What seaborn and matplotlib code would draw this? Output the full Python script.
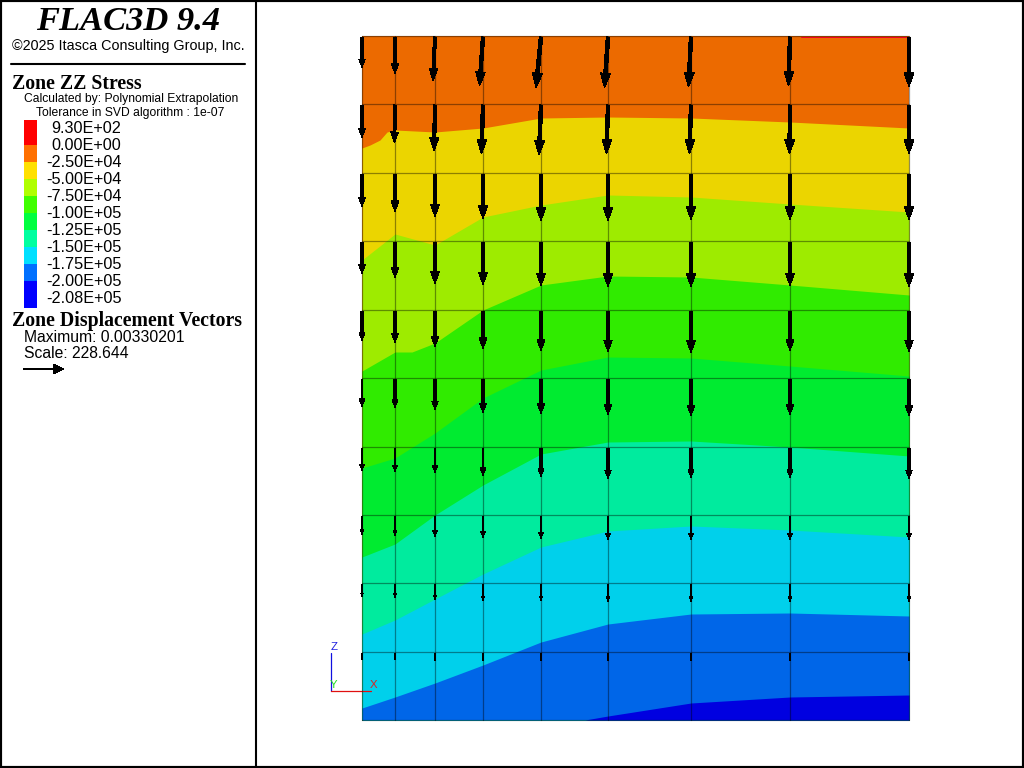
import numpy as np
import pandas as pd
import seaborn as sns
import matplotlib
matplotlib.use("Agg")
import matplotlib.pyplot as plt
from matplotlib.patches import Rectangle

sns.set_theme(style="white")
plt.rcParams['font.family'] = ['Liberation Sans', 'DejaVu Sans']

# grid node positions in the view
grid_x = [362, 395, 435, 483, 541, 608, 691, 790, 909]
grid_y = [36, 104, 173, 241, 310, 378, 447, 515, 583, 652, 720]

# contour colours, top band first
band_colors = ['#ec6a00', '#ebd500', '#9eeb00', '#30eb00', '#00eb30',
               '#00eb9e', '#00d0eb', '#0066e8', '#0000e0']

# band boundaries (x list, y list), top to bottom
b1_x = [362, 370, 380, 387, 395, 435, 483, 541, 608, 691, 790, 909]
b1_y = [148, 145, 140, 132, 130, 132, 128, 118, 117, 118, 122, 128]
b2_x = [362, 395, 435, 483, 541, 608, 691, 790, 909]
b2_y = [260, 234, 245, 217, 205, 195, 197, 204, 212]
b3_x = [362, 395, 412, 435, 483, 541, 608, 691, 790, 909]
b3_y = [371, 352, 352, 343, 310, 285, 276, 277, 285, 295]
b4_x = [362, 395, 435, 483, 541, 608, 691, 790, 909]
b4_y = [468, 458, 433, 398, 370, 357, 358, 366, 376]
b5_y = [557, 544, 515, 485, 454, 442, 441, 447, 456]
b6_y = [634, 620, 599, 574, 547, 531, 526, 530, 537]
b7_y = [708, 697, 683, 665, 642, 624, 614, 613, 616]
b8_x = [585, 608, 691, 790, 909]
b8_y = [720, 716, 703, 697, 695]
boundaries = [(b1_x, b1_y), (b2_x, b2_y), (b3_x, b3_y), (b4_x, b4_y), (b4_x, b5_y),
              (b4_x, b6_y), (b4_x, b7_y), (b8_x, b8_y)]

# displacement vectors: length per row (rows top to bottom, columns left to right)
vec_len = [
    [31, 37, 44, 49, 51, 51, 50, 49, 50],
    [33, 38, 46, 49, 50, 49, 49, 49, 49],
    [33, 38, 43, 45, 47, 47, 46, 46, 46],
    [32, 36, 42, 43, 44, 45, 45, 44, 45],
    [30, 32, 36, 38, 40, 41, 42, 40, 41],
    [28, 29, 31, 34, 35, 36, 37, 36, 37],
    [23, 24, 25, 28, 29, 31, 30, 30, 31],
    [19, 20, 21, 22, 23, 24, 24, 24, 24],
    [13, 14, 16, 17, 17, 18, 18, 18, 18],
    [7, 7, 8, 8, 8, 8, 8, 8, 8],
]
# sideways lean of the top two rows
vec_dx = [
    [0, 0, -2, -3.5, -5, -3.5, -2.5, -1.5, 0],
    [0, -0.5, -1, -1.5, -2, -1.5, -1.5, -0.5, 0],
]

legend_labels = ['9.30E+02', '0.00E+00', '-2.50E+04', '-5.00E+04', '-7.50E+04', '-1.00E+05',
                 '-1.25E+05', '-1.50E+05', '-1.75E+05', '-2.00E+05', '-2.08E+05']
legend_colors = ['#ff0000', '#ff7000', '#ffe000', '#b0ff00', '#40ff00', '#00ff40',
                 '#00ffa0', '#00e0ff', '#0070ff', '#0000ff']
legend_edges = [120, 145, 162, 179, 196, 213, 230, 247, 264, 281, 308]

SANS = 'Liberation Sans'
SERIF = 'Liberation Serif'

fig = plt.figure(figsize=(10.24, 7.68), dpi=100)
ax = fig.add_axes([0, 0, 1, 1])
ax.set_facecolor('white')

# contour bands, painted top down
ax.fill_between([grid_x[0], grid_x[-1]], grid_y[0], grid_y[-1], color=band_colors[0],
                lw=0, antialiased=False, zorder=1)
for (bx, by), col in zip(boundaries, band_colors[1:]):
    ax.fill_between(bx, by, grid_y[-1], color=col, lw=0, antialiased=False, zorder=1)
ax.plot([801, 909], [37, 37], color='#f00020', lw=0.7, zorder=3.5)

# zone grid
rows = []
for i, x in enumerate(grid_x):
    rows += [{'x': x, 'y': grid_y[0], 'line': f'v{i}'}, {'x': x, 'y': grid_y[-1], 'line': f'v{i}'}]
for j, y in enumerate(grid_y):
    rows += [{'x': grid_x[0], 'y': y, 'line': f'h{j}'}, {'x': grid_x[-1], 'y': y, 'line': f'h{j}'}]
grid_df = pd.DataFrame(rows)
sns.lineplot(data=grid_df, x='x', y='y', units='line', estimator=None, sort=False,
             color='black', alpha=0.4, lw=0.9, ax=ax, zorder=3, errorbar=None)

# displacement arrows
for r, lens in enumerate(vec_len):
    for c, length in enumerate(lens):
        dx = vec_dx[r][c] if r < len(vec_dx) else 0
        ax.arrow(grid_x[c], grid_y[r] + 1, dx, length,
                 width=max(0.8, 0.07 * length), head_width=0.2 * length,
                 head_length=0.29 * length, length_includes_head=True,
                 color='black', lw=0, antialiased=False, zorder=4)

# left panel
ax.plot([256, 256], [0, 768], color='black', lw=1.5, zorder=5)
ax.text(128.5, 22, 'FLAC3D 9.4', family=SERIF, style='italic', weight='bold', fontsize=24.8,
        ha='center', va='center', color='black')
ax.text(128, 46, '©2025 Itasca Consulting Group, Inc.', family=SANS, fontsize=10.4,
        ha='center', va='center', color='black')
ax.plot([11, 245], [64, 64], color='black', lw=1.5)
ax.text(12, 84, 'Zone ZZ Stress', family=SERIF, weight='bold', fontsize=14.2,
        ha='left', va='center', color='black')
ax.text(24, 99, 'Calculated by: Polynomial Extrapolation', family=SANS, fontsize=8.7,
        ha='left', va='center', color='black')
ax.text(36, 113, 'Tolerance in SVD algorithm : 1e-07', family=SANS, fontsize=8.7,
        ha='left', va='center', color='black')

for k, col in enumerate(legend_colors):
    ax.add_patch(Rectangle((24, legend_edges[k]), 13, legend_edges[k + 1] - legend_edges[k],
                           facecolor=col, edgecolor='none', antialiased=False, zorder=5))
for k, lab in enumerate(legend_labels):
    ax.text(121.5, 133 + 17 * k, lab, family=SANS, fontsize=11.7, ha='right', va='baseline', color='black')

ax.text(12, 321, 'Zone Displacement Vectors', family=SERIF, weight='bold', fontsize=14.2,
        ha='left', va='center', color='black')
ax.text(24, 337, 'Maximum: 0.00330201', family=SANS, fontsize=11.3, ha='left', va='center', color='black')
ax.text(24, 354, 'Scale: 228.644', family=SANS, fontsize=11.3, ha='left', va='center', color='black')
ax.arrow(23, 369, 41, 0, width=1.4, head_width=10, head_length=11, length_includes_head=True,
         color='black', lw=0, antialiased=False)

# axis triad
ax.plot([331, 331], [653, 691], color='#1010e0', lw=0.9)
ax.plot([331, 371], [691, 691], color='#e01010', lw=0.9)
ax.text(334, 647, 'Z', family=SANS, fontsize=8.2, color='#2020e0', ha='center', va='center')
ax.text(334, 685, 'Y', family=SANS, fontsize=8.2, color='#20e020', ha='center', va='center')
ax.text(373.5, 685, 'X', family=SANS, fontsize=8.2, color='#e02020', ha='center', va='center')

ax.set_xlim(0, 1024)
ax.set_ylim(768, 0)
ax.set_xticks([])
ax.set_yticks([])
ax.set_xlabel('')
ax.set_ylabel('')
for s in ax.spines.values():
    s.set_visible(True)
    s.set_color('black')
    s.set_linewidth(3)

fig.savefig('out.png', dpi=100)
